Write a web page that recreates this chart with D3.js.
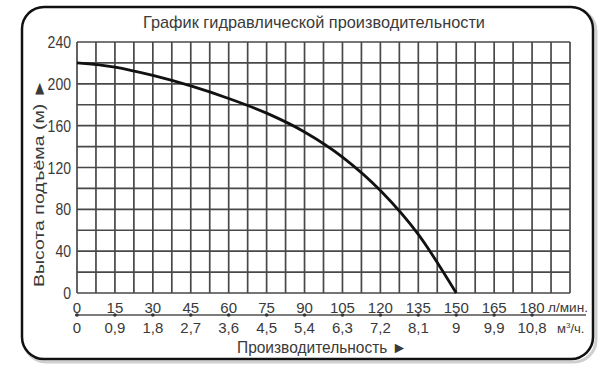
<!DOCTYPE html>
<html>
<head>
<meta charset="utf-8">
<script src="https://cdn.jsdelivr.net/npm/d3@7.9.0/dist/d3.min.js"></script>
<style>
  body { margin: 0; background: #fff; }
  text { font-family: "Liberation Sans", Arial, sans-serif; fill: #3a3a3a; }
</style>
</head>
<body>
<svg width="603" height="379"></svg>
<script>
// flow, l/min and head, m
const flowLpm = [0, 15, 30, 45, 60, 75, 90, 105, 120, 135, 150];
const headM = [220, 216, 208, 198, 186, 172, 154, 130, 98, 56, 0];

const lpmTicks = [0, 15, 30, 45, 60, 75, 90, 105, 120, 135, 150, 165, 180];
const m3hLabels = ["0", "0,9", "1,8", "2,7", "3,6", "4,5", "5,4", "6,3", "7,2", "8,1", "9", "9,9", "10,8"];
const headTicks = [0, 40, 80, 120, 160, 200, 240];

const svg = d3.select('svg');

const x = d3.scaleLinear().domain([0, 195]).range([77, 570]);
const y = d3.scaleLinear().domain([0, 240]).range([293, 42]);

// frame with soft shadow
svg.append('rect')
  .attr('x', 24).attr('y', 9).attr('width', 572).attr('height', 353)
  .attr('rx', 22).attr('fill', 'none')
  .attr('stroke', '#cfcfcf').attr('stroke-width', 3);
svg.append('rect')
  .attr('x', 22).attr('y', 7).attr('width', 571).attr('height', 352)
  .attr('rx', 22).attr('fill', '#fff')
  .attr('stroke', '#111').attr('stroke-width', 2.5);

svg.append('text')
  .attr('x', 314).attr('y', 28)
  .attr('text-anchor', 'middle')
  .attr('font-size', 17)
  .attr('textLength', 342).attr('lengthAdjust', 'spacingAndGlyphs')
  .text('График гидравлической производительности');

// grid
const grid = svg.append('g').attr('stroke', '#484848').attr('stroke-width', 1.7);
d3.range(0, 195.1, 7.5).forEach(v => {
  grid.append('line')
    .attr('x1', x(v)).attr('x2', x(v))
    .attr('y1', y(0)).attr('y2', y(240));
});
d3.range(0, 240.1, 20).forEach(v => {
  grid.append('line')
    .attr('x1', x(0)).attr('x2', x(195))
    .attr('y1', y(v)).attr('y2', y(v));
});

// y axis labels
svg.append('g').selectAll('text')
  .data(headTicks)
  .join('text')
  .attr('x', 71).attr('y', d => y(d) + 6)
  .attr('text-anchor', 'end')
  .attr('font-size', 16)
  .attr('textLength', d => String(d).length * 7.8)
  .attr('lengthAdjust', 'spacingAndGlyphs')
  .text(d => d);

svg.append('text')
  .attr('transform', 'translate(44,183) rotate(-90)')
  .attr('text-anchor', 'middle')
  .attr('font-size', 15)
  .attr('textLength', 208).attr('lengthAdjust', 'spacingAndGlyphs')
  .text('Высота подъёма (м) ►');

// x axis: two rows of labels with a separator line
svg.append('line')
  .attr('x1', x(0) - 2).attr('x2', 586)
  .attr('y1', 315).attr('y2', 315)
  .attr('stroke', '#505050').attr('stroke-width', 1.6);

svg.append('g').selectAll('circle')
  .data(lpmTicks)
  .join('circle')
  .attr('cx', d => x(d)).attr('cy', 315).attr('r', 1.8)
  .attr('fill', '#333');

svg.append('g').selectAll('text')
  .data(lpmTicks)
  .join('text')
  .attr('x', d => x(d)).attr('y', 313)
  .attr('text-anchor', 'middle')
  .attr('font-size', 15)
  .text(d => d);

svg.append('g').selectAll('text')
  .data(lpmTicks)
  .join('text')
  .attr('x', d => x(d)).attr('y', 333)
  .attr('text-anchor', 'middle')
  .attr('font-size', 15)
  .text((d, i) => m3hLabels[i]);

svg.append('text')
  .attr('x', 548).attr('y', 312)
  .attr('font-size', 13)
  .attr('textLength', 40).attr('lengthAdjust', 'spacingAndGlyphs')
  .text('л/мин.');
svg.append('text')
  .attr('x', 557).attr('y', 333)
  .attr('font-size', 13)
  .html('м<tspan dy="-5" font-size="8">3</tspan><tspan dy="5">/ч.</tspan>');

svg.append('text')
  .attr('x', 322).attr('y', 353)
  .attr('text-anchor', 'middle')
  .attr('font-size', 16)
  .attr('textLength', 170).attr('lengthAdjust', 'spacingAndGlyphs')
  .text('Производительность ►');

// performance curve
const line = d3.line()
  .x((d, i) => x(flowLpm[i]))
  .y(d => y(d))
  .curve(d3.curveMonotoneX);

svg.append('path')
  .attr('d', line(headM))
  .attr('fill', 'none')
  .attr('stroke', '#111')
  .attr('stroke-width', 2.8);
</script>
</body>
</html>
